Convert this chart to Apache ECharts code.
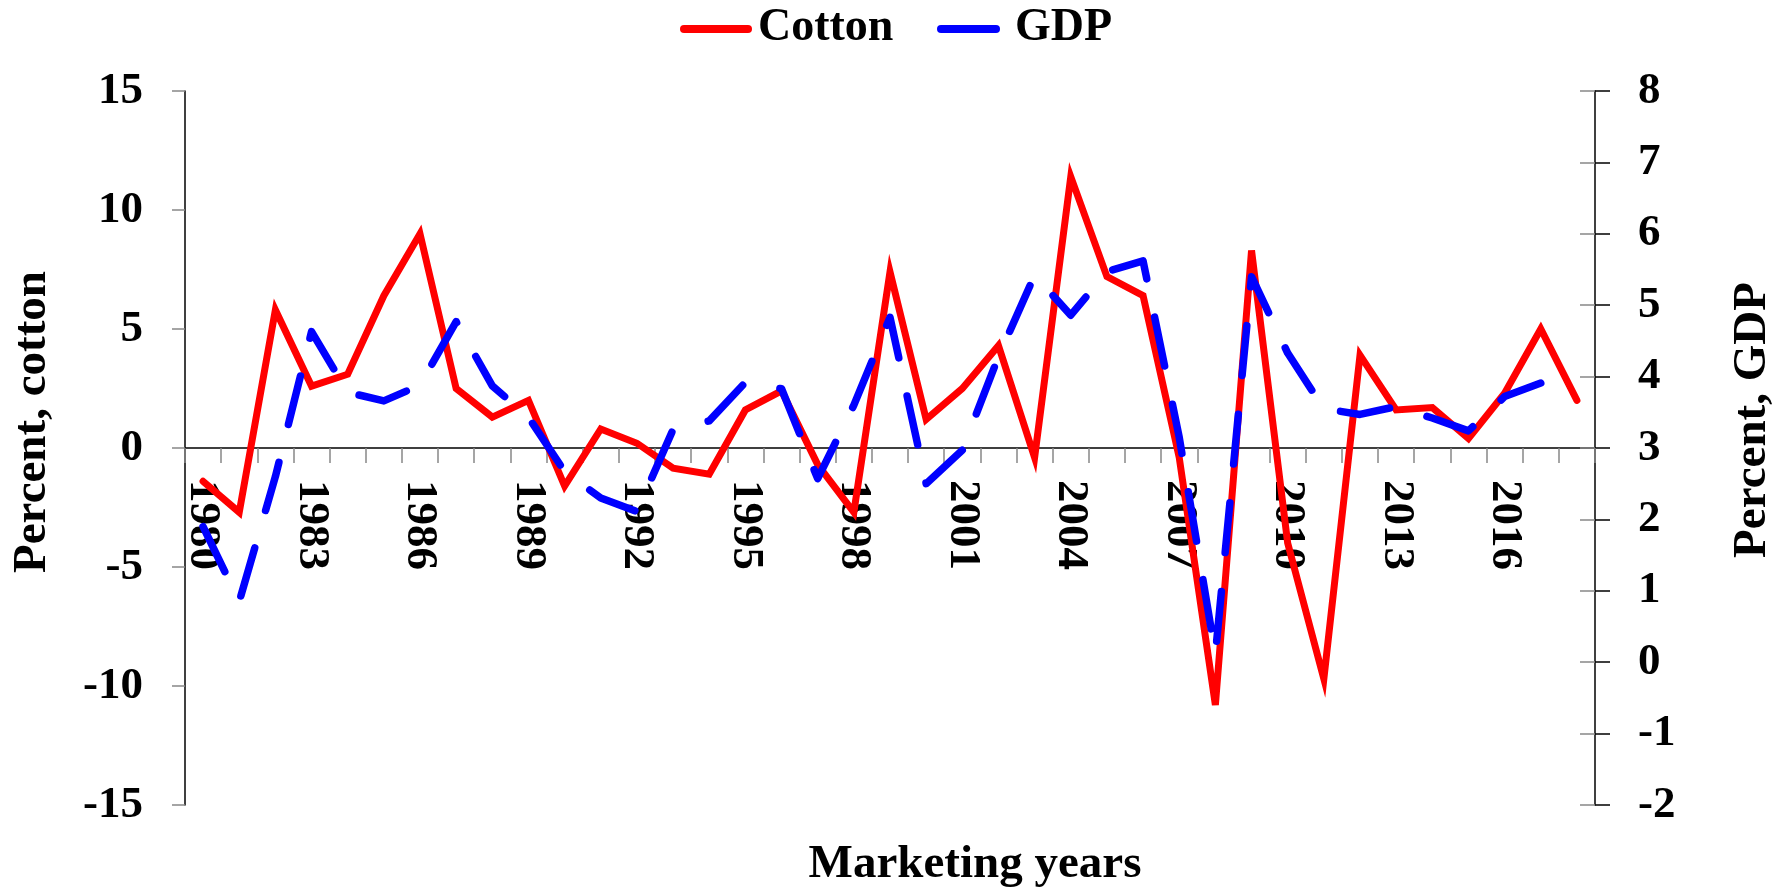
<!DOCTYPE html>
<html><head><meta charset="utf-8">
<script src="https://cdn.jsdelivr.net/npm/echarts@6/dist/echarts.min.js"></script>
<style>html,body{margin:0;padding:0;background:#fff}#c{width:1792px;height:891px}</style>
</head><body><div id="c"></div>
<script>
const years = ['1980','1981','1982','1983','1984','1985','1986','1987','1988','1989',
  '1990','1991','1992','1993','1994','1995','1996','1997','1998','1999',
  '2000','2001','2002','2003','2004','2005','2006','2007','2008','2009',
  '2010','2011','2012','2013','2014','2015','2016','2017','2018'];
const cotton = [-1.4,-2.7,5.8,2.6,3.1,6.4,9.0,2.5,1.3,2.0,
  -1.6,0.8,0.2,-0.85,-1.1,1.6,2.4,-0.7,-2.7,7.4,
  1.2,2.5,4.3,-0.4,11.4,7.2,6.4,-0.4,-10.8,8.3,
  -4.0,-9.7,3.9,1.6,1.7,0.4,2.3,5.0,2.0];
const gdp = [1.9,0.85,2.6,4.63,3.78,3.66,3.88,4.77,3.87,3.43,
  2.67,2.3,2.11,3.26,3.38,3.92,3.83,2.57,3.6,4.83,
  2.5,2.97,4.28,5.42,4.86,5.47,5.62,3.15,0.11,5.4,
  4.33,3.55,3.47,3.58,3.42,3.24,3.72,3.91,null];
const seriesNames = ['Cotton','GDP'];
const seriesColors = ['#ff0000','#0000ff'];
const axisNames = ['Percent, cotton','Percent, GDP','Marketing years'];

const FF = "'Liberation Serif','Times New Roman',serif";
const txt = (size) => ({fontFamily: FF, fontWeight: 'bold', fontSize: size, color: '#000'});
const FONT46 = "bold 46px 'Liberation Serif'";
const FONT47 = "bold 47px 'Liberation Serif'";

const GRID_TOP = 91, GRID_BOTTOM = 86, H = 891;
// x axis crosses the left axis at 0 (midpoint of -15..15)
const xOffset = -((H - GRID_BOTTOM - GRID_TOP) / 2);

// legend key drawn as solid lines (as in the original), positions only
const legendKeys = [
  {x1: 684, x2: 748, tx: 758},
  {x1: 941, x2: 996, tx: 1015}
];
const legendGraphics = [];
legendKeys.forEach((k, i) => {
  legendGraphics.push({type: 'line', shape: {x1: k.x1, y1: 29, x2: k.x2, y2: 29},
    style: {stroke: seriesColors[i], lineWidth: 8, lineCap: 'round'}});
  legendGraphics.push({type: 'text', x: k.tx, y: 28,
    style: {text: seriesNames[i], textAlign: 'left', textVerticalAlign: 'middle', fill: '#000', font: FONT46}});
});

const chart = echarts.init(document.getElementById('c'), null, {renderer: 'canvas'});
chart.setOption({
  animation: false,
  backgroundColor: '#fff',
  grid: {left: 185, right: 197, top: GRID_TOP, bottom: GRID_BOTTOM},
  xAxis: {
    type: 'category', data: years, boundaryGap: true,
    position: 'bottom', offset: xOffset,
    axisLine: {onZero: false, lineStyle: {color: '#000', width: 1.5}},
    axisTick: {show: true, interval: 0, length: 15, lineStyle: {color: '#888', width: 1.5}},
    axisLabel: Object.assign({interval: 2, rotate: -90, margin: 32}, txt(45)),
    splitLine: {show: false}
  },
  yAxis: [
    {
      type: 'value', position: 'left', min: -15, max: 15, interval: 5,
      axisLine: {show: true, onZero: false, lineStyle: {color: '#000', width: 1.5}},
      axisTick: {show: true, length: 13, lineStyle: {color: '#888', width: 1.5}},
      axisLabel: Object.assign({margin: 42}, txt(45)),
      splitLine: {show: false}
    },
    {
      type: 'value', position: 'right', min: -2, max: 8, interval: 1,
      axisLine: {show: true, onZero: false, lineStyle: {color: '#000', width: 1.5}},
      axisTick: {show: true, length: 15, lineStyle: {color: '#000', width: 1.5}},
      axisLabel: Object.assign({margin: 43}, txt(45)),
      splitLine: {show: false}
    },
    {
      type: 'value', position: 'right', min: -2, max: 8, interval: 1,
      axisLine: {show: false},
      axisTick: {show: true, inside: true, length: 15, lineStyle: {color: '#888', width: 1.5}},
      axisLabel: {show: false},
      splitLine: {show: false}
    }
  ],
  graphic: legendGraphics.concat([
    {type: 'text', x: 33, y: 422, rotation: Math.PI / 2,
      style: {text: axisNames[0], textAlign: 'center', textVerticalAlign: 'middle', fill: '#000', font: FONT47}},
    {type: 'text', x: 1753, y: 420, rotation: Math.PI / 2,
      style: {text: axisNames[1], textAlign: 'center', textVerticalAlign: 'middle', fill: '#000', font: FONT47}},
    {type: 'text', x: 975, y: 865,
      style: {text: axisNames[2], textAlign: 'center', textVerticalAlign: 'middle', fill: '#000', font: FONT47}}
  ]),
  series: [
    {
      name: seriesNames[0], type: 'line', data: cotton, yAxisIndex: 0,
      symbol: 'none', showSymbol: false, color: seriesColors[0], z: 2,
      lineStyle: {color: seriesColors[0], width: 7, cap: 'round', join: 'miter', miterLimit: 6}
    },
    {
      name: seriesNames[1], type: 'line', data: gdp, yAxisIndex: 1,
      symbol: 'none', showSymbol: false, color: seriesColors[1], z: 3,
      lineStyle: {color: seriesColors[1], width: 7.5, type: [50, 39], cap: 'round', join: 'round'}
    }
  ]
});
</script>
</body></html>
